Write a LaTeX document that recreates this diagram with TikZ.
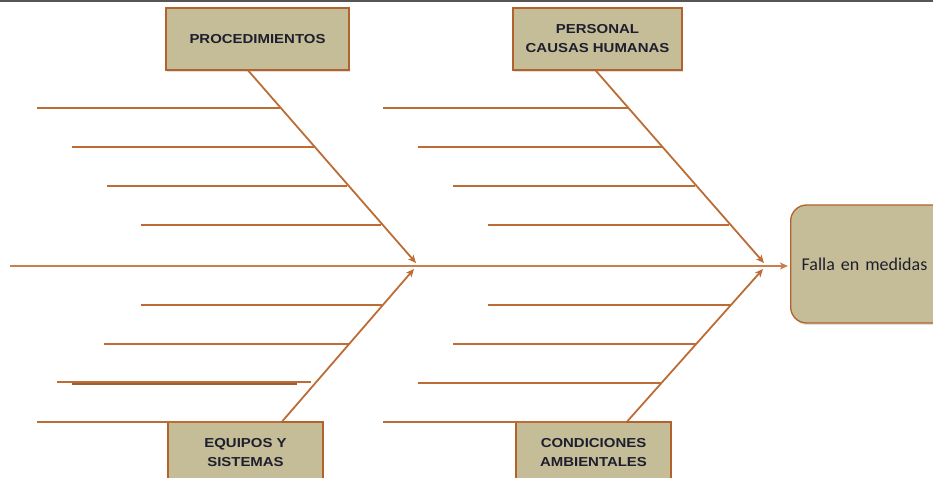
\documentclass[tikz,border=0pt]{standalone}
\usepackage{fontspec}
\usetikzlibrary{arrows,arrows.meta,calc,shadows}
\newfontfamily\labelfont[FakeStretch=1.15]{Liberation Sans}
\newfontfamily\effectfont{Carlito}
\definecolor{bone}{RGB}{188,108,52}
\definecolor{spine}{RGB}{198,128,76}
\definecolor{boxfill}{RGB}{196,189,151}
\definecolor{boxedge}{RGB}{178,98,42}
\definecolor{ink}{RGB}{30,30,46}
\definecolor{frame}{RGB}{85,85,85}

\begin{document}
\begin{tikzpicture}[x=1pt,y=-1pt,>={Stealth[length=8pt,width=7pt,inset=2pt]},
  causa/.style={draw=boxedge,fill=boxfill,line width=1.3pt,align=center,
    font=\labelfont\bfseries\fontsize{13}{19}\selectfont,text=ink,
    drop shadow={shadow xshift=1pt,shadow yshift=-2pt,opacity=0.25}},
  efecto/.style={draw=boxedge,fill=boxfill,line width=1.3pt,rounded corners=16pt,
    font=\effectfont\fontsize{18}{22}\selectfont,text=ink,anchor=west,
    minimum height=118pt,text width=160pt,inner xsep=11pt,align=left,
    drop shadow={shadow xshift=1pt,shadow yshift=-2pt,opacity=0.25}},
  rib/.style={draw=bone,line width=1.8pt},
  branch/.style={->,draw=bone,line width=1.8pt}]
  \useasboundingbox (0,0) rectangle (933,477);
  \clip (0,0) rectangle (933,477);

  \draw[frame,line width=2.2pt] (0,1) -- (933,1);

  % cause boxes
  \node[causa,minimum width=183pt,minimum height=62pt] (proc) at (257.5,39) {PROCEDIMIENTOS};
  \node[causa,minimum width=169pt,minimum height=62pt] (pers) at (597.5,39) {PERSONAL\\CAUSAS HUMANAS};
  \node[causa,minimum width=155pt,minimum height=62pt] (equi) at (245.5,453) {EQUIPOS Y\\SISTEMAS};
  \node[causa,minimum width=155pt,minimum height=62pt] (cond) at (593.5,453) {CONDICIONES\\AMBIENTALES};
  \node[efecto] (falla) at (790,264) {Falla en medidas};

  \coordinate (s0)  at (10,266);
  \coordinate (j1a) at (416,263);
  \coordinate (j1b) at (414,269);
  \coordinate (j2a) at (764,263);
  \coordinate (j2b) at (763,269);

  % spine
  \draw[->,spine,line width=2.8pt,shorten >=2pt] (s0) -- (s0 -| falla.west);

  % main bones
  \draw[branch] ($(proc.south west)!0.45!(proc.south east)$) -- (j1a);
  \draw[branch] ($(equi.north west)!0.735!(equi.north east)$) -- (j1b);
  \draw[branch] ($(pers.south west)!0.49!(pers.south east)$) -- (j2a);
  \draw[branch] ($(cond.north west)!0.716!(cond.north east)$) -- (j2b);

  % small bones, left half
  \draw[rib] (37,108) -- (280,108);
  \draw[rib] (72,147) -- (314,147);
  \draw[rib] (107,186) -- (347,186);
  \draw[rib] (141,225) -- (381,225);
  \draw[rib] (141,305) -- (382,305);
  \draw[rib] (104,344) -- (349,344);
  \draw[rib] (57,382) -- (311,382);
  \draw[rib,line width=2.2pt,bone!85!black] (72,384) -- (297,384);
  \draw[rib] (37,422) -- (281,422);

  % small bones, right half
  \draw[rib] (383,108) -- (628,108);
  \draw[rib] (418,147) -- (662,147);
  \draw[rib] (453,186) -- (695,186);
  \draw[rib] (488,225) -- (729,225);
  \draw[rib] (488,305) -- (731,305);
  \draw[rib] (453,344) -- (696,344);
  \draw[rib] (418,383) -- (661,383);
  \draw[rib] (383,422) -- (626,422);
\end{tikzpicture}
\end{document}
